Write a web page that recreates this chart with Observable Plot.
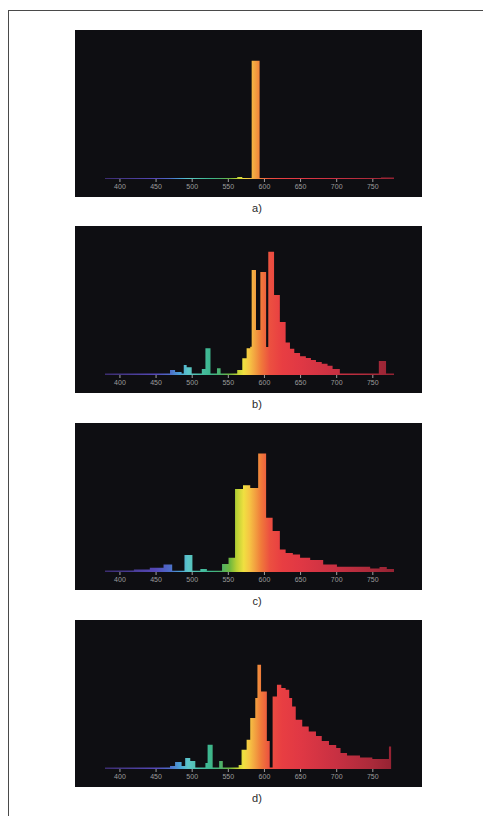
<!DOCTYPE html>
<html>
<head>
<meta charset="utf-8">
<script src="https://cdn.jsdelivr.net/npm/d3@7"></script>
<script src="https://cdn.jsdelivr.net/npm/@observablehq/plot@0.6"></script>
<style>
  html, body { margin: 0; padding: 0; background: #fff; }
  body { position: relative; width: 483px; height: 816px; overflow: hidden;
         font-family: "Liberation Sans", Arial, sans-serif; }
  .frame { position: absolute; left: 8px; top: 10px; width: 600px; height: 900px;
           border-left: 1px solid #4a4a4a; border-top: 1px solid #4a4a4a; }
  .panel { position: absolute; left: 75px; width: 347px; }
  .panel svg { display: block; }
  .tag { position: absolute; left: 75px; width: 364px; text-align: center;
         font-size: 11px; line-height: 12px; color: #2a2a2a; }
</style>
</head>
<body>
<div class="frame"></div>
<script>
// Wavelength axis (nm)
const wavelengthTicks = [400, 450, 500, 550, 600, 650, 700, 750];
const panelTags = ["a)", "b)", "c)", "d)"];

// Each lamp: bin edges (nm) and relative intensity of each bin
const lampA_edges  = [380, 563, 570, 583, 594, 762, 780];
const lampA_levels = [0.8, 1.6, 0.8, 94.6, 0.8, 1.2];

const lampB_edges  = [380, 470, 477, 486, 489, 493, 500, 514, 519, 526, 535, 540, 563, 570, 576, 581, 583, 589, 595, 603,
                      606, 614, 622, 630, 636, 642, 650, 658, 665, 672, 680, 688, 695, 705, 759, 769, 780];
const lampB_levels = [1.2, 4, 2.4, 1.2, 8, 6.2, 1.2, 4.8, 21.4, 1.2, 5.4, 1.2, 4, 13.4, 21.4, 22.6, 84, 36, 82.4, 22.4,
                      98.7, 64, 42.4, 26, 21, 17.6, 15, 13.6, 12, 10.4, 9, 7.5, 4.8, 1.2, 11.2, 1.2];

const lampC_edges  = [380, 420, 442, 461, 473, 490, 501, 512, 521, 542, 551, 560, 571, 581, 592, 603, 612, 622, 630, 640,
                      650, 664, 682, 701, 747, 760, 770, 780];
const lampC_levels = [1.2, 2.1, 3.4, 6.1, 1, 13.6, 1, 2.4, 1, 6.4, 11.4, 66.4, 69.4, 67.2, 94.9, 43.4, 32.8, 18.1, 15.2, 14,
                      11.4, 9.6, 6.1, 4.2, 2.9, 4, 2.4];

const lampD_edges  = [380, 470, 477, 486, 491, 498, 505, 519, 522, 529, 538, 543, 565, 569, 576, 581, 588, 591, 596, 604,
                      608, 612, 618, 624, 630, 635, 639, 644, 653, 662, 672, 680, 690, 700, 706, 715, 733, 750, 773, 776];
const lampD_levels = [1.2, 2.4, 5.6, 2.4, 8.8, 6.4, 1.2, 4.8, 19.4, 1.2, 6.4, 1.2, 3.2, 15.4, 23.4, 40.8, 56.8, 83.4, 62, 22.4,
                      1.2, 58, 67.4, 64.8, 63.4, 56.8, 50, 39.4, 34, 30, 26.4, 22.4, 19.2, 16.8, 12.8, 10.8, 9.2, 8, 18];

// Colour of light along the visible spectrum (nm -> colour)
const spectrumStops = [
  [380, "#3b2c6e"], [420, "#4a3d98"], [450, "#5548b8"], [470, "#4d6cc8"], [485, "#4aa6d6"],
  [495, "#5cc6c8"], [510, "#4cbfa8"], [525, "#3cb68e"], [540, "#4cb06c"], [553, "#70b83e"],
  [562, "#b8d034"], [572, "#f0e040"], [580, "#f6c444"], [588, "#f2a040"], [596, "#f07a3a"],
  [608, "#ec5040"], [625, "#e83e42"], [650, "#e03844"], [700, "#c83042"], [750, "#aa2a3a"], [780, "#922232"]
];

const lamps = [
  { edges: lampA_edges, levels: lampA_levels },
  { edges: lampB_edges, levels: lampB_levels },
  { edges: lampC_edges, levels: lampC_levels },
  { edges: lampD_edges, levels: lampD_levels }
];

const panelTop = [30, 226, 423, 620];
const panelH = 167;

lamps.forEach((lamp, k) => {
  const gid = "spectrum-" + k;
  const steps = lamp.edges.map((nm, i) => ({ nm, level: lamp.levels[Math.min(i, lamp.levels.length - 1)] }));

  const chart = Plot.plot({
    width: 347,
    height: panelH,
    marginLeft: 30,
    marginRight: 28,
    marginTop: 24,
    marginBottom: 18,
    style: { background: "#0e0e12", color: "#9a9a9a", fontSize: "7px", fontFamily: "Liberation Sans, Arial, sans-serif" },
    x: { domain: [380, 780] },
    y: { domain: [0, 100], axis: null },
    marks: [
      Plot.areaY(steps, { x: "nm", y: "level", curve: "step-after", fill: `url(#${gid})` }),
      Plot.axisX({ ticks: wavelengthTicks, tickSize: 3, tickPadding: 1.5, label: null, stroke: "#a0a0a0", fill: "#9c9c9c" })
    ]
  });

  // spectral colour gradient, laid out along the x scale
  const x = chart.scale("x");
  const svg = d3.select(chart);
  const grad = svg.insert("defs", ":first-child").append("linearGradient")
    .attr("id", gid)
    .attr("gradientUnits", "userSpaceOnUse")
    .attr("x1", x.apply(380)).attr("x2", x.apply(780))
    .attr("y1", 0).attr("y2", 0);
  spectrumStops.forEach(([nm, c]) => {
    grad.append("stop").attr("offset", (nm - 380) / 400).attr("stop-color", c);
  });

  const holder = document.createElement("div");
  holder.className = "panel";
  holder.style.top = panelTop[k] + "px";
  holder.appendChild(chart);
  document.body.appendChild(holder);

  const tag = document.createElement("div");
  tag.className = "tag";
  tag.style.top = (panelTop[k] + panelH + 5) + "px";
  tag.textContent = panelTags[k];
  document.body.appendChild(tag);
});
</script>
</body>
</html>
